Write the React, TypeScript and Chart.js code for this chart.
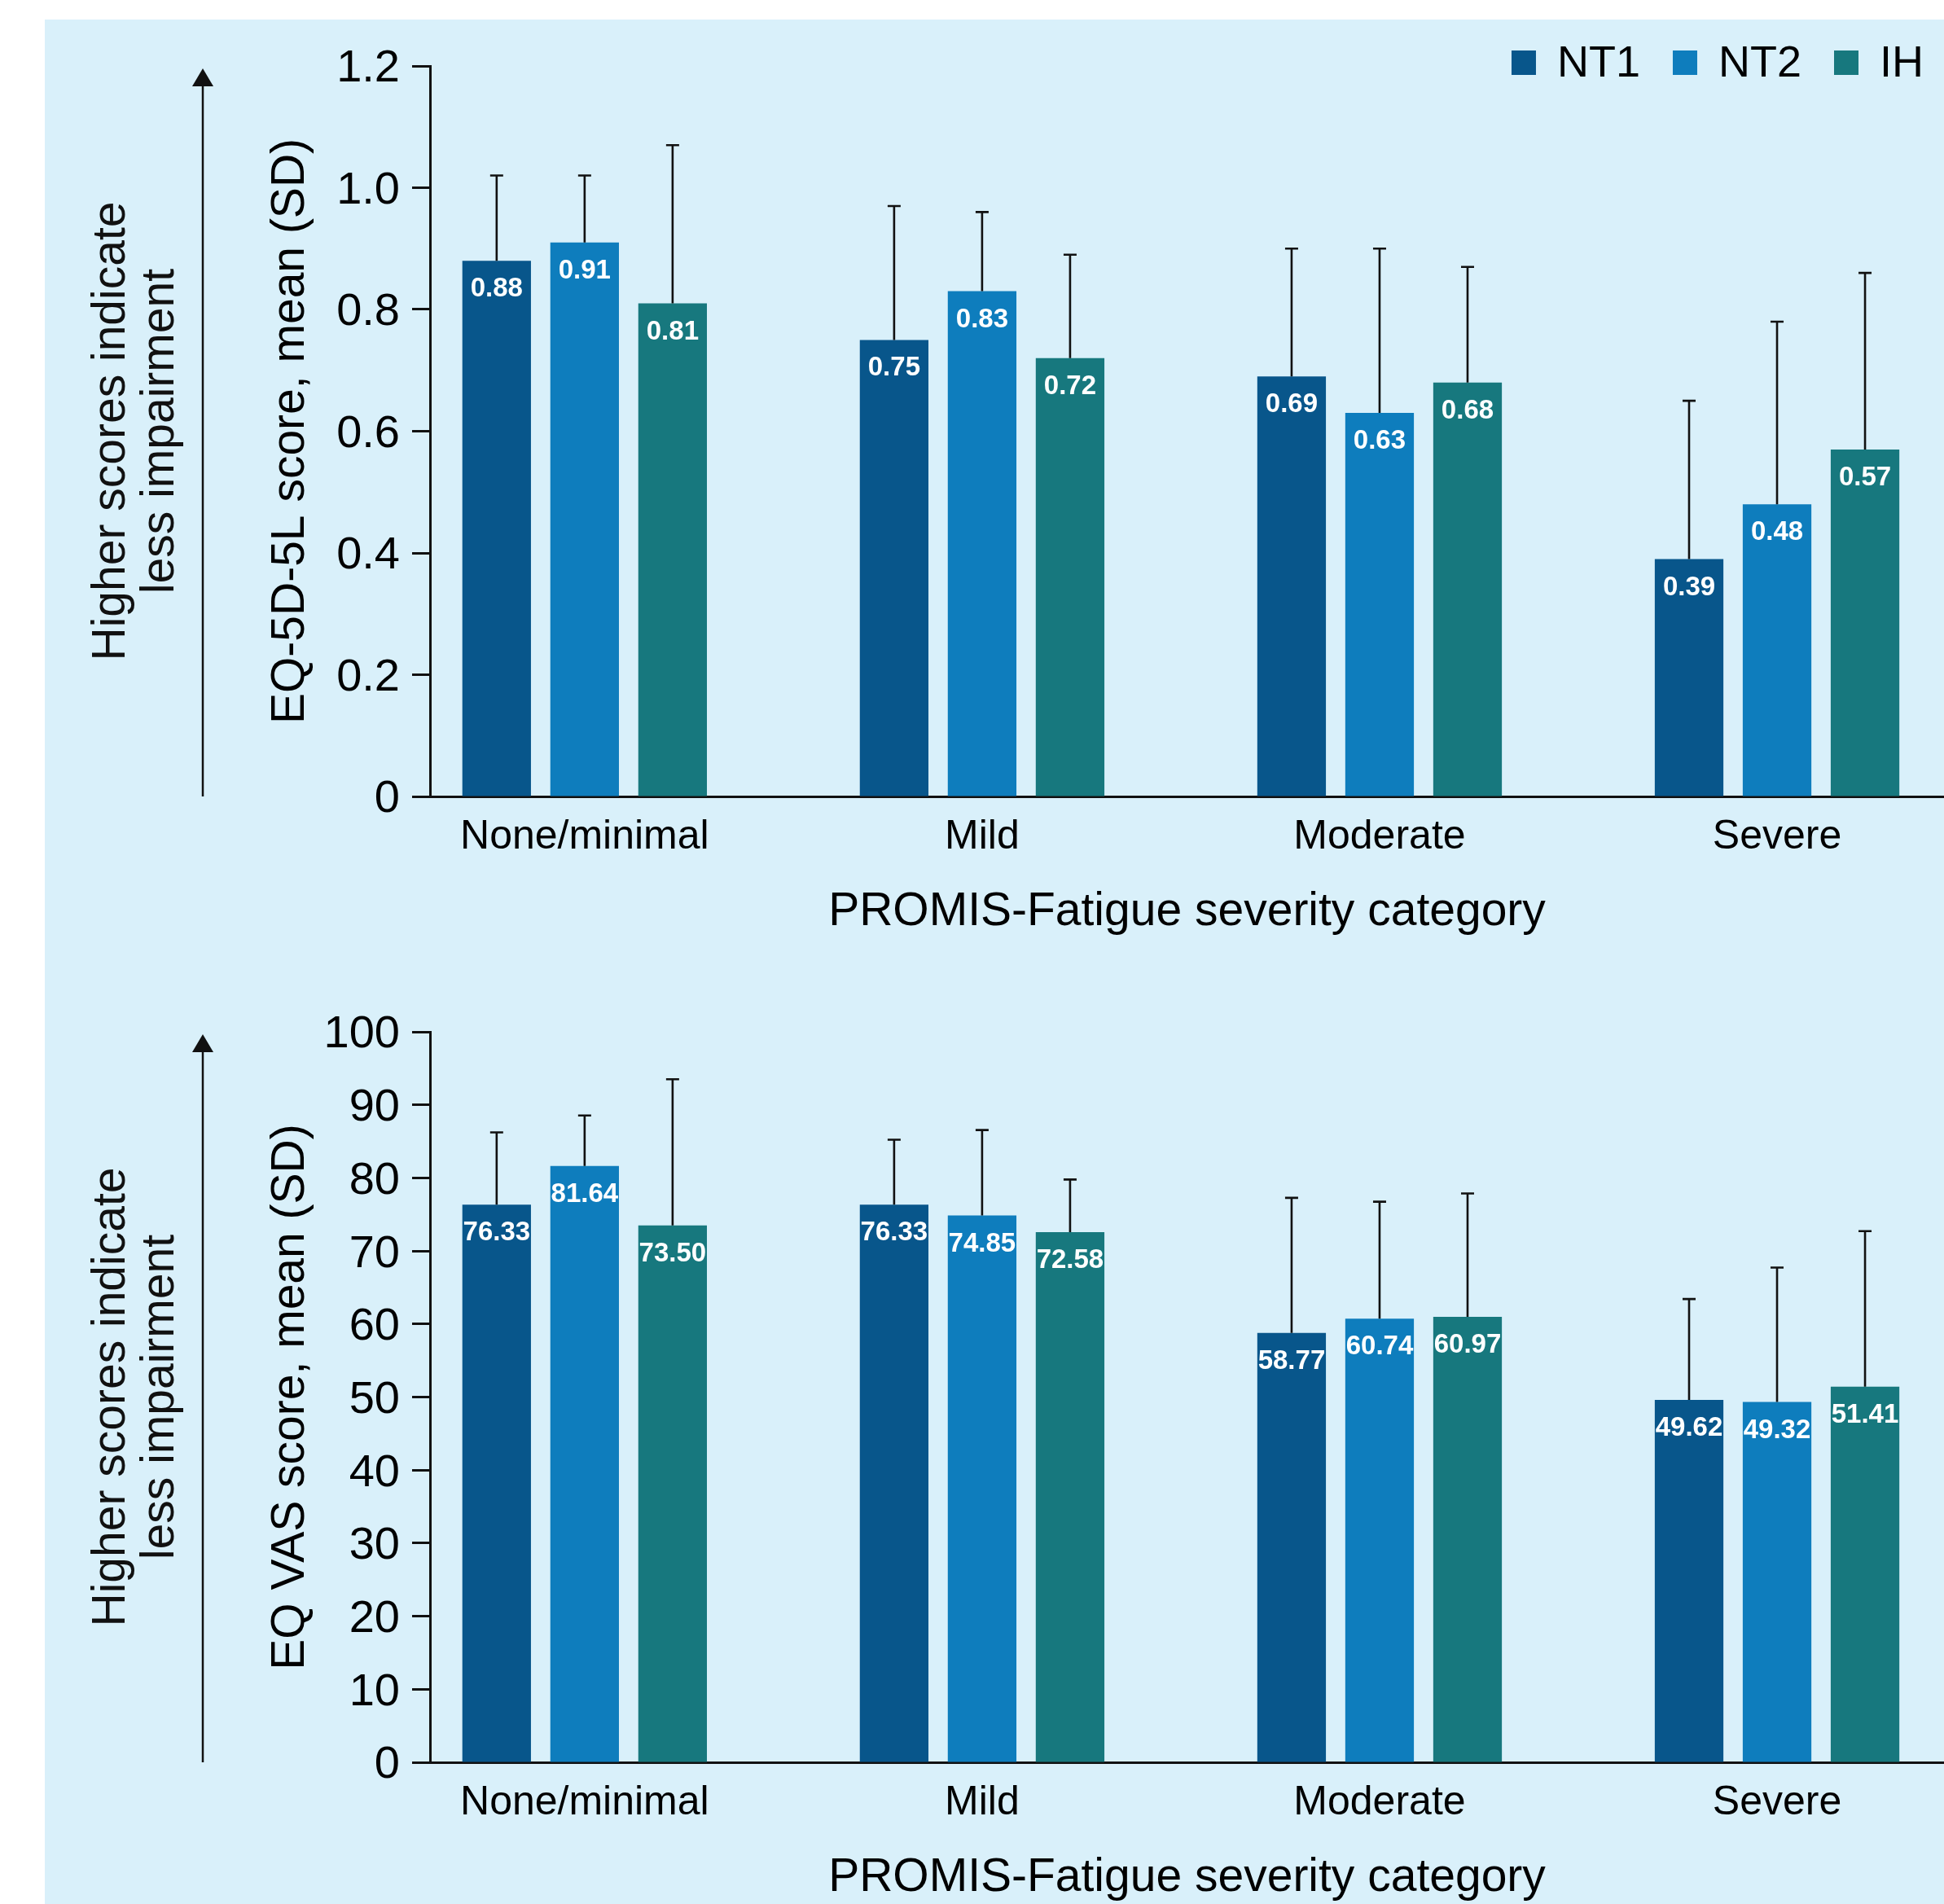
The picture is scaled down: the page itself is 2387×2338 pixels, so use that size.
import React, { useEffect, useRef } from 'react';
import { Chart, registerables } from 'chart.js';

Chart.register(...registerables);

const FAMILY = "'Liberation Sans', Arial, Helvetica, sans-serif";

const CATEGORIES = ['None/minimal', 'Mild', 'Moderate', 'Severe'];
const SERIES = ['NT1', 'NT2', 'IH'];
const COLORS = ['#08568b', '#0e7dbd', '#17787e'];

// EQ-5D-5L (top panel)
const EQ5D_NT1 = [0.88, 0.75, 0.69, 0.39];
const EQ5D_NT2 = [0.91, 0.83, 0.63, 0.48];
const EQ5D_IH = [0.81, 0.72, 0.68, 0.57];
const EQ5D_SD_NT1 = [0.14, 0.22, 0.21, 0.26];
const EQ5D_SD_NT2 = [0.11, 0.13, 0.27, 0.3];
const EQ5D_SD_IH = [0.26, 0.17, 0.19, 0.29];
const EQ5D_TICKS = [0, 0.2, 0.4, 0.6, 0.8, 1.0, 1.2];
const EQ5D_TICK_LABELS = ['0', '0.2', '0.4', '0.6', '0.8', '1.0', '1.2'];

// EQ VAS (bottom panel)
const VAS_NT1 = [76.33, 76.33, 58.77, 49.62];
const VAS_NT2 = [81.64, 74.85, 60.74, 49.32];
const VAS_IH = [73.5, 72.58, 60.97, 51.41];
const VAS_SD_NT1 = [9.9, 8.9, 18.5, 13.8];
const VAS_SD_NT2 = [6.9, 11.7, 16.0, 18.4];
const VAS_SD_IH = [20.0, 7.2, 16.9, 21.3];
const VAS_TICKS = [0, 10, 20, 30, 40, 50, 60, 70, 80, 90, 100];
const VAS_TICK_LABELS = ['0', '10', '20', '30', '40', '50', '60', '70', '80', '90', '100'];

const SIDE_TEXT = ['Higher scores indicate', 'less impairment'];
const X_TITLE = 'PROMIS-Fatigue severity category';

const W = 2387;
const H = 1169;

type PanelSpec = {
  means: number[][];
  sds: number[][];
  ticks: number[];
  tickLabels: string[];
  yMax: number;
  yTitle: string;
  padTop: number;
  axisBottom: number;
  legend: boolean;
};

function buildChart(canvas: HTMLCanvasElement, spec: PanelSpec) {
  const datasets = SERIES.map((name, di) => ({
    label: name,
    data: spec.means[di].map((v, i) => ({ x: i, y: v })),
    backgroundColor: COLORS[di],
    borderWidth: 0,
    categoryPercentage: 0.664,
    barPercentage: 0.78,
  }));

  const errorAndLabels = {
    id: 'errorAndLabels',
    afterDatasetsDraw(chart: any) {
      const { ctx } = chart;
      const yScale = chart.scales.y;
      ctx.save();
      chart.data.datasets.forEach((ds: any, di: number) => {
        const meta = chart.getDatasetMeta(di);
        meta.data.forEach((el: any, i: number) => {
          const top = yScale.getPixelForValue(ds.data[i].y + spec.sds[di][i]);
          ctx.strokeStyle = '#111';
          ctx.lineWidth = 2.6;
          ctx.beginPath();
          ctx.moveTo(el.x, el.y);
          ctx.lineTo(el.x, top);
          ctx.moveTo(el.x - 8, top);
          ctx.lineTo(el.x + 8, top);
          ctx.stroke();
        });
      });
      ctx.fillStyle = '#ffffff';
      ctx.font = `bold 33px ${FAMILY}`;
      ctx.textAlign = 'center';
      ctx.textBaseline = 'middle';
      chart.data.datasets.forEach((ds: any, di: number) => {
        const meta = chart.getDatasetMeta(di);
        meta.data.forEach((el: any, i: number) => {
          ctx.fillText(ds.data[i].y.toFixed(2), el.x, el.y + 35);
        });
      });
      ctx.restore();
    },
  };

  const sideText = {
    id: 'sideText',
    afterDraw(chart: any) {
      const { ctx, chartArea } = chart;
      ctx.save();
      const ax = 249;
      const tipY = chartArea.top + 3;
      ctx.strokeStyle = '#111';
      ctx.fillStyle = '#111';
      ctx.lineWidth = 2.5;
      ctx.beginPath();
      ctx.moveTo(ax, tipY + 20);
      ctx.lineTo(ax, chartArea.bottom);
      ctx.stroke();
      ctx.beginPath();
      ctx.moveTo(ax, tipY);
      ctx.lineTo(ax - 13, tipY + 22);
      ctx.lineTo(ax + 13, tipY + 22);
      ctx.closePath();
      ctx.fill();
      const cy = (chartArea.top + chartArea.bottom) / 2;
      ctx.font = `57px ${FAMILY}`;
      ctx.textAlign = 'center';
      ctx.textBaseline = 'alphabetic';
      SIDE_TEXT.forEach((line, i) => {
        ctx.save();
        ctx.translate(153 + i * 60, cy);
        ctx.rotate(-Math.PI / 2);
        ctx.fillText(line, 0, 0);
        ctx.restore();
      });
      ctx.restore();
    },
  };

  const legendPlugin = {
    id: 'customLegend',
    afterDraw(chart: any) {
      if (!spec.legend) return;
      const { ctx, chartArea } = chart;
      ctx.save();
      ctx.font = `54px ${FAMILY}`;
      ctx.textBaseline = 'alphabetic';
      ctx.textAlign = 'left';
      const box = 30;
      const gap = 26;
      const itemGap = 40;
      const items = chart.data.datasets.map((d: any) => ({
        label: d.label,
        color: d.backgroundColor,
        w: ctx.measureText(d.label).width,
      }));
      const total = items.reduce((s: number, it: any) => s + box + gap + it.w, 0) + itemGap * (items.length - 1);
      let x = chartArea.right - 25 - total;
      items.forEach((it: any) => {
        ctx.fillStyle = it.color;
        ctx.fillRect(x, 62, box, box);
        ctx.fillStyle = '#000';
        ctx.fillText(it.label, x + box + gap, 94);
        x += box + gap + it.w + itemGap;
      });
      ctx.restore();
    },
  };

  const xAxisH = H - spec.axisBottom;
  const xTitleBottomPad = H - (spec.axisBottom + 142) - 28.5;

  return new Chart(canvas, {
    type: 'bar',
    data: { datasets },
    plugins: [errorAndLabels, sideText, legendPlugin],
    options: {
      animation: false,
      responsive: false,
      devicePixelRatio: 1,
      events: [],
      layout: { padding: { top: spec.padTop, left: 0, right: 0, bottom: 0 } },
      plugins: {
        legend: { display: false },
        tooltip: { enabled: false },
      },
      scales: {
        x: {
          type: 'linear',
          offset: false,
          min: -0.389,
          max: 3.42,
          afterBuildTicks: (axis: any) => {
            axis.ticks = CATEGORIES.map((_, i) => ({ value: i }));
          },
          afterFit: (scale: any) => {
            scale.height = xAxisH;
          },
          ticks: {
            callback: (v: any) => CATEGORIES[v as number],
            font: { size: 50, family: FAMILY, lineHeight: 1 },
            color: '#000',
            padding: 25,
            autoSkip: false,
            maxRotation: 0,
          },
          grid: { display: true, offset: false, drawOnChartArea: false, drawTicks: false },
          border: { display: true, color: '#111', width: 3 },
          title: {
            display: true,
            text: X_TITLE,
            color: '#000',
            font: { size: 57, family: FAMILY, lineHeight: 1 },
            padding: { top: 0, bottom: xTitleBottomPad },
          },
        },
        y: {
          min: 0,
          max: spec.yMax,
          afterBuildTicks: (axis: any) => {
            axis.ticks = spec.ticks.map((v) => ({ value: v }));
          },
          afterFit: (scale: any) => {
            scale.width = 528;
          },
          ticks: {
            callback: (_v: any, i: number) => spec.tickLabels[i],
            font: { size: 56, family: FAMILY, lineHeight: 1 },
            color: '#000',
            padding: 15,
            labelOffset: 4,
            autoSkip: false,
          },
          grid: {
            display: true,
            drawOnChartArea: false,
            drawTicks: true,
            tickLength: 22,
            tickWidth: 3,
            tickColor: '#111',
          },
          border: { display: true, color: '#111', width: 3 },
          title: {
            display: true,
            text: spec.yTitle,
            color: '#000',
            font: { size: 57, family: FAMILY, lineHeight: 1 },
            padding: { top: 357 - 28.5, bottom: 0 },
          },
        },
      },
    } as any,
  });
}

function Panel({ spec, top }: { spec: PanelSpec; top: number }) {
  const ref = useRef<HTMLCanvasElement | null>(null);
  useEffect(() => {
    if (!ref.current) return;
    const chart = buildChart(ref.current, spec);
    return () => chart.destroy();
  }, []);
  return (
    <canvas
      ref={ref}
      width={W}
      height={H}
      style={{ position: 'absolute', left: 0, top, width: W, height: H, display: 'block' }}
    />
  );
}

const TOP_SPEC: PanelSpec = {
  means: [EQ5D_NT1, EQ5D_NT2, EQ5D_IH],
  sds: [EQ5D_SD_NT1, EQ5D_SD_NT2, EQ5D_SD_IH],
  ticks: EQ5D_TICKS,
  tickLabels: EQ5D_TICK_LABELS,
  yMax: 1.2,
  yTitle: 'EQ-5D-5L score, mean (SD)',
  padTop: 81,
  axisBottom: 978,
  legend: true,
};

const BOTTOM_SPEC: PanelSpec = {
  means: [VAS_NT1, VAS_NT2, VAS_IH],
  sds: [VAS_SD_NT1, VAS_SD_NT2, VAS_SD_IH],
  ticks: VAS_TICKS,
  tickLabels: VAS_TICK_LABELS,
  yMax: 100,
  yTitle: 'EQ VAS score, mean (SD)',
  padTop: 98,
  axisBottom: 995,
  legend: false,
};

export default function App() {
  Chart.defaults.font.family = FAMILY;
  return (
    <div
      style={{
        position: 'fixed',
        left: 0,
        top: 0,
        width: W,
        height: 2338,
        background: '#ffffff',
        overflow: 'hidden',
      }}
    >
      <div
        style={{
          position: 'absolute',
          left: 55,
          top: 24,
          right: 0,
          bottom: 0,
          background: '#d9f0fa',
        }}
      />
      <Panel spec={TOP_SPEC} top={0} />
      <Panel spec={BOTTOM_SPEC} top={H} />
    </div>
  );
}
